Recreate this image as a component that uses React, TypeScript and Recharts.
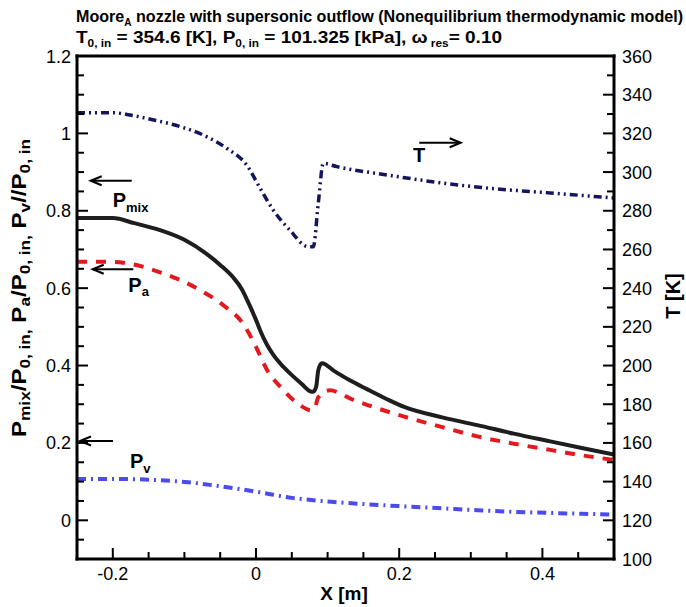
import { ComposedChart, Line, XAxis, YAxis } from 'recharts'

// P_mix / P_0,in (solid black)
const pMixX = [-0.25, -0.2, -0.17, -0.134, -0.1, -0.07, -0.05, -0.032, -0.02, -0.01, 0, 0.006, 0.015, 0.024, 0.038, 0.052, 0.064, 0.075, 0.08, 0.084, 0.087, 0.092, 0.11, 0.131, 0.155, 0.183, 0.207, 0.26, 0.309, 0.36, 0.411, 0.455, 0.5]
const pMixY = [0.781, 0.781, 0.768, 0.75, 0.725, 0.69, 0.66, 0.628, 0.598, 0.56, 0.518, 0.49, 0.455, 0.428, 0.397, 0.372, 0.352, 0.334, 0.332, 0.345, 0.388, 0.406, 0.385, 0.362, 0.339, 0.313, 0.293, 0.266, 0.246, 0.224, 0.204, 0.187, 0.17]

// P_a / P_0,in (red dashed)
const pAX = [-0.25, -0.2, -0.176, -0.134, -0.106, -0.078, -0.043, -0.018, -0.001, 0.015, 0.038, 0.061, 0.077, 0.082, 0.087, 0.103, 0.135, 0.207, 0.26, 0.309, 0.36, 0.411, 0.455, 0.5]
const pAY = [0.668, 0.668, 0.663, 0.641, 0.621, 0.595, 0.552, 0.508, 0.452, 0.39, 0.337, 0.298, 0.284, 0.29, 0.318, 0.336, 0.312, 0.268, 0.241, 0.217, 0.198, 0.182, 0.168, 0.156]

// P_v / P_0,in (blue dash-dot)
const pVX = [-0.25, -0.2, -0.15, -0.099, -0.05, 0.003, 0.05, 0.105, 0.15, 0.207, 0.26, 0.309, 0.36, 0.411, 0.455, 0.5]
const pVY = [0.107, 0.107, 0.105, 0.099, 0.088, 0.073, 0.058, 0.048, 0.042, 0.036, 0.031, 0.026, 0.022, 0.019, 0.017, 0.015]

// T [K] (navy dash-dot-dot, right axis)
const tX = [-0.25, -0.2, -0.176, -0.139, -0.106, -0.074, -0.041, -0.013, 0.006, 0.024, 0.047, 0.073, 0.08, 0.087, 0.094, 0.113, 0.183, 0.257, 0.327, 0.411, 0.5]
const tY = [330.7, 330.7, 329.5, 326.6, 323.5, 319.2, 312.3, 303.6, 291.5, 280.4, 270.1, 261.4, 261.4, 284, 304.5, 302.8, 298.5, 294.5, 291.6, 289.2, 286.6]

const xMajorTicks = [-0.2, 0, 0.2, 0.4]
const xMinorTicks = [-0.15, -0.1, -0.05, 0.05, 0.1, 0.15, 0.25, 0.3, 0.35, 0.45]
const pMajorTicks = [0, 0.2, 0.4, 0.6, 0.8, 1, 1.2]
const pMinorTicks = [-0.05, 0.05, 0.1, 0.15, 0.25, 0.3, 0.35, 0.45, 0.5, 0.55, 0.65, 0.7, 0.75, 0.85, 0.9, 0.95, 1.05, 1.1, 1.15]
const tMajorTicks = [100, 120, 140, 160, 180, 200, 220, 240, 260, 280, 300, 320, 340, 360]
const tMinorTicks = [110, 130, 150, 170, 190, 210, 230, 250, 270, 290, 310, 330, 350]

const X_DOMAIN: [number, number] = [-0.25, 0.5]
const P_DOMAIN: [number, number] = [-0.1, 1.2]
const T_DOMAIN: [number, number] = [100, 360]

const zip = (xs: number[], ys: number[]) => xs.map((x, i) => ({ x, v: ys[i] }))
const pMixData = zip(pMixX, pMixY)
const pAData = zip(pAX, pAY)
const pVData = zip(pVX, pVY)
const tData = zip(tX, tY)

const FONT = '"Liberation Sans", Arial, Helvetica, sans-serif'
const near = (list: number[], v: number) => list.some((t) => Math.abs(t - v) < 1e-9)
const MAJOR = 11
const MINOR = 7

// with tickSize/tickMargin 0, x/y of a tick sit on the frame; marks point inward
const BottomTick = ({ x, y, payload }: any) => {
  const major = near(xMajorTicks, payload.value)
  return (
    <g>
      <line x1={x} y1={y} x2={x} y2={y - (major ? MAJOR : MINOR)} stroke="#000" strokeWidth={2} />
      {major && (
        <text x={x} y={y + 21} textAnchor="middle" fontFamily={FONT} fontSize={18} fill="#000">
          {String(payload.value)}
        </text>
      )}
    </g>
  )
}

const TopTick = ({ x, y, payload }: any) => {
  const len = near(xMajorTicks, payload.value) ? MAJOR : MINOR
  return <line x1={x} y1={y} x2={x} y2={y + len} stroke="#000" strokeWidth={2} />
}

const LeftTick = ({ x, y, payload }: any) => {
  const major = near(pMajorTicks, payload.value)
  return (
    <g>
      <line x1={x} y1={y} x2={x + (major ? MAJOR : MINOR)} y2={y} stroke="#000" strokeWidth={2} />
      {major && (
        <text x={x - 6} y={y + 6.5} textAnchor="end" fontFamily={FONT} fontSize={18} fill="#000">
          {String(payload.value)}
        </text>
      )}
    </g>
  )
}

const RightTick = ({ x, y, payload }: any) => {
  const major = near(tMajorTicks, payload.value)
  return (
    <g>
      <line x1={x} y1={y} x2={x - (major ? MAJOR : MINOR)} y2={y} stroke="#000" strokeWidth={2} />
      {major && (
        <text x={x + 8} y={y + 6.5} textAnchor="start" fontFamily={FONT} fontSize={18} fill="#000">
          {String(payload.value)}
        </text>
      )}
    </g>
  )
}

const Arrow = ({ from, to, y }: { from: number; to: number; y: number }) => {
  const d = to < from ? 1 : -1
  return (
    <g stroke="#000" strokeWidth={2} fill="none">
      <line x1={from} y1={y} x2={to} y2={y} />
      <polyline points={`${to + d * 11},${y - 4.5} ${to},${y} ${to + d * 11},${y + 4.5}`} />
    </g>
  )
}

const axisLine = { stroke: '#000', strokeWidth: 3, strokeLinecap: 'square' as const }
const sub = 15

export default function App() {
  return (
    <div style={{ position: 'absolute', left: 0, top: 0, width: 686, height: 607, background: '#fff' }}>
      <ComposedChart width={686} height={607} margin={{ top: 55, right: 22, bottom: 18, left: 17 }}>
        <XAxis
          xAxisId="b"
          dataKey="x"
          type="number"
          domain={X_DOMAIN}
          allowDataOverflow
          ticks={[...xMajorTicks, ...xMinorTicks]}
          interval={0}
          height={30}
          tickSize={0}
          tickMargin={0}
          tickLine={false}
          axisLine={axisLine}
          tick={<BottomTick />}
        />
        <XAxis
          xAxisId="t"
          orientation="top"
          type="number"
          domain={X_DOMAIN}
          allowDataOverflow
          ticks={[...xMajorTicks, ...xMinorTicks]}
          interval={0}
          height={1}
          tickSize={0}
          tickMargin={0}
          tickLine={false}
          axisLine={axisLine}
          tick={<TopTick />}
        />
        <YAxis
          yAxisId="p"
          type="number"
          domain={P_DOMAIN}
          allowDataOverflow
          ticks={[...pMajorTicks, ...pMinorTicks]}
          interval={0}
          width={60}
          tickSize={0}
          tickMargin={0}
          tickLine={false}
          axisLine={axisLine}
          tick={<LeftTick />}
        />
        <YAxis
          yAxisId="t"
          orientation="right"
          type="number"
          domain={T_DOMAIN}
          allowDataOverflow
          ticks={[...tMajorTicks, ...tMinorTicks]}
          interval={0}
          width={50}
          tickSize={0}
          tickMargin={0}
          tickLine={false}
          axisLine={axisLine}
          tick={<RightTick />}
        />

        <Line
          xAxisId="b"
          yAxisId="t"
          data={tData}
          dataKey="v"
          type="monotone"
          stroke="#15155e"
          strokeWidth={3.5}
          strokeDasharray="8 4 2 4 2 4"
          dot={false}
          activeDot={false}
          isAnimationActive={false}
        />
        <Line
          xAxisId="b"
          yAxisId="p"
          data={pVData}
          dataKey="v"
          type="monotone"
          stroke="#4b4bee"
          strokeWidth={4}
          strokeDasharray="9 5 2 5"
          dot={false}
          activeDot={false}
          isAnimationActive={false}
        />
        <Line
          xAxisId="b"
          yAxisId="p"
          data={pMixData}
          dataKey="v"
          type="monotone"
          stroke="#1e1e1e"
          strokeWidth={4}
          dot={false}
          activeDot={false}
          isAnimationActive={false}
        />
        <Line
          xAxisId="b"
          yAxisId="p"
          data={pAData}
          dataKey="v"
          type="monotone"
          stroke="#e3191e"
          strokeWidth={4}
          strokeDasharray="10 9"
          dot={false}
          activeDot={false}
          isAnimationActive={false}
        />
      </ComposedChart>

      <svg
        width={686}
        height={607}
        style={{ position: 'absolute', left: 0, top: 0, pointerEvents: 'none' }}
        fontFamily={FONT}
      >
        <text x={76} y={21.5} fontSize={16} fontWeight="bold" textLength={607} lengthAdjust="spacingAndGlyphs">
          Moore<tspan fontSize={10} dy={4}>A</tspan>
          <tspan dy={-4}> nozzle with supersonic outflow (Nonequilibrium thermodynamic model)</tspan>
        </text>
        <text x={76} y={43} fontSize={16} fontWeight="bold" textLength={426} lengthAdjust="spacingAndGlyphs">
          T<tspan fontSize={10} dy={4}>0, in</tspan>
          <tspan dy={-4}> = 354.6 [K], P</tspan>
          <tspan fontSize={10} dy={4}>0, in</tspan>
          <tspan dy={-4}> = 101.325 [kPa], ω</tspan>
          <tspan fontSize={10} dy={4}> res</tspan>
          <tspan dy={-4}>= 0.10</tspan>
        </text>

        <text
          transform="translate(26,288) rotate(-90)"
          textAnchor="middle"
          fontSize={21}
          fontWeight="bold"
          textLength={298}
          lengthAdjust="spacingAndGlyphs"
        >
          P<tspan fontSize={sub} dy={4}>mix</tspan>
          <tspan dy={-4}>/P</tspan>
          <tspan fontSize={sub} dy={4}>0, in,</tspan>
          <tspan dy={-4}> P</tspan>
          <tspan fontSize={sub} dy={4}>a</tspan>
          <tspan dy={-4}>/P</tspan>
          <tspan fontSize={sub} dy={4}>0, in,</tspan>
          <tspan dy={-4}> P</tspan>
          <tspan fontSize={sub} dy={4}>v</tspan>
          <tspan dy={-4}>//P</tspan>
          <tspan fontSize={sub} dy={4}>0, in</tspan>
        </text>
        <text transform="translate(680,296) rotate(-90)" textAnchor="middle" fontSize={20} fontWeight="bold">
          T [K]
        </text>
        <text x={344} y={600} textAnchor="middle" fontSize={19} fontWeight="bold">
          X [m]
        </text>

        <Arrow from={131.7} to={90.7} y={180.7} />
        <text x={112.7} y={206.7} fontSize={20} fontWeight="bold">
          P<tspan fontSize={13} dy={5.6}>mix</tspan>
        </text>
        <Arrow from={133.3} to={92.7} y={269.3} />
        <text x={128.3} y={291.7} fontSize={20} fontWeight="bold">
          P<tspan fontSize={13} dy={4.5}>a</tspan>
        </text>
        <Arrow from={113} to={80} y={441} />
        <text x={130} y={468} fontSize={20} fontWeight="bold">
          P<tspan fontSize={13} dy={4.5}>v</tspan>
        </text>
        <Arrow from={419.3} to={460.7} y={142.7} />
        <text x={413} y={161.7} fontSize={20} fontWeight="bold">
          T
        </text>
      </svg>
    </div>
  )
}
